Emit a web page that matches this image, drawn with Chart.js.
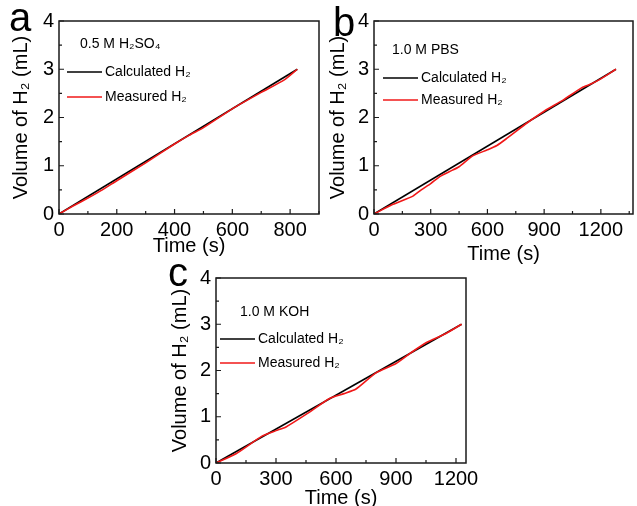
<!DOCTYPE html>
<html lang="en">
<head>
<meta charset="UTF-8">
<title>Volume of H2 vs time</title>
<script src="https://cdn.jsdelivr.net/npm/chart.js"></script>
<style>
  body { margin: 0; background: #fff; overflow: hidden; }
  #wrap { position: relative; width: 637px; height: 506px; overflow: hidden; }
  canvas { position: absolute; }
</style>
</head>
<body>
<div id="wrap">
  <canvas id="chartA" width="322" height="262" style="left:0;top:0"></canvas>
  <canvas id="chartB" width="317" height="270" style="left:320px;top:0"></canvas>
  <canvas id="chartC" width="330" height="260" style="left:160px;top:256px"></canvas>
</div>
<script>
// panel a - 0.5 M H2SO4
const aCalcTime = [0, 825];
const aCalcVol = [0, 3];
const aMeasTime = [0, 50, 100, 150, 200, 300, 400, 450, 500, 600, 700, 780, 825];
const aMeasVol = [0, 0.17, 0.33, 0.5, 0.69, 1.06, 1.45, 1.63, 1.79, 2.18, 2.52, 2.78, 3.0];
const aTimeTicks = [0, 200, 400, 600, 800];

// panel b - 1.0 M PBS
const bCalcTime = [0, 1280];
const bCalcVol = [0, 3];
const bMeasTime = [0, 100, 206, 250, 300, 350, 400, 450, 520, 600, 650, 700, 800, 900, 1000, 1100, 1150, 1200, 1280];
const bMeasVol = [0, 0.2, 0.37, 0.5, 0.63, 0.78, 0.88, 0.98, 1.2, 1.33, 1.42, 1.56, 1.86, 2.13, 2.36, 2.62, 2.7, 2.8, 3.0];
const bTimeTicks = [0, 300, 600, 900, 1200];

// panel c - 1.0 M KOH
const cCalcTime = [0, 1228];
const cCalcVol = [0, 3];
const cMeasTime = [0, 100, 230, 300, 350, 450, 570, 640, 700, 800, 900, 980, 1050, 1150, 1228];
const cMeasVol = [0, 0.2, 0.58, 0.7, 0.78, 1.05, 1.4, 1.5, 1.6, 1.95, 2.15, 2.4, 2.6, 2.8, 3.0];
const cTimeTicks = [0, 300, 600, 900, 1200];

const volTicks = [0, 1, 2, 3, 4];
const legendNames = ['Calculated H\u2082', 'Measured H\u2082'];
const FONT = '"Liberation Sans", Arial, sans-serif';
Chart.defaults.font.family = FONT;

function pts(t, v) {
    return t.map((x, i) => ({ x: x, y: v[i] }));
}

// box around the plot + inward major/minor ticks (Origin style)
const frame = {
    id: 'frame',
    afterDatasetsDraw(chart) {
        const { ctx, chartArea: a, scales } = chart;
        ctx.save();
        ctx.strokeStyle = '#1a1a1a';
        ctx.lineWidth = 1.5;
        ctx.strokeRect(a.left, a.top, a.right - a.left, a.bottom - a.top);
        ctx.lineWidth = 1.2;
        ctx.beginPath();
        const xs = scales.x, ys = scales.y;
        const xv = xs.ticks.map(t => t.value), yv = ys.ticks.map(t => t.value);
        const xStep = xv[1] - xv[0], yStep = yv[1] - yv[0];
        for (let v = 0; v <= xs.max; v += xStep / 2) {
            const px = xs.getPixelForValue(v);
            const len = (Math.round(v / xStep * 2) % 2 === 0) ? 5 : 3;
            ctx.moveTo(px, a.bottom);
            ctx.lineTo(px, a.bottom - len);
        }
        for (let v = 0; v <= ys.max; v += yStep / 2) {
            const py = ys.getPixelForValue(v);
            const len = (Math.round(v / yStep * 2) % 2 === 0) ? 5 : 3;
            ctx.moveTo(a.left, py);
            ctx.lineTo(a.left + len, py);
        }
        ctx.stroke();
        ctx.restore();
    }
};

// panel letter, electrolyte label and legend inside the plot
const deco = {
    id: 'deco',
    afterDraw(chart, args, o) {
        const { ctx, chartArea: a } = chart;
        ctx.save();
        ctx.fillStyle = '#000';
        ctx.textAlign = 'left';
        ctx.textBaseline = 'alphabetic';
        ctx.font = '40px ' + FONT;
        ctx.fillText(o.letter, a.left + o.letterX, a.top + o.letterY);
        ctx.font = '14px ' + FONT;
        ctx.textBaseline = 'middle';
        ctx.fillText(o.label, a.left + o.labelX, a.top + o.labelY);
        chart.data.datasets.forEach((ds, i) => {
            const y = a.top + o.rows[i];
            ctx.strokeStyle = ds.borderColor;
            ctx.lineWidth = 1.6;
            ctx.beginPath();
            ctx.moveTo(a.left + o.lx, y);
            ctx.lineTo(a.left + o.lx + 35, y);
            ctx.stroke();
            ctx.fillText(ds.label, a.left + o.lx + 38, y);
        });
        ctx.restore();
    }
};

function makeChart(id, p) {
    new Chart(document.getElementById(id), {
        type: 'line',
        data: {
            datasets: [
                { label: legendNames[0], data: pts(p.calcT, p.calcV), borderColor: '#000', borderWidth: 1.6, pointRadius: 0, order: 1 },
                { label: legendNames[1], data: pts(p.measT, p.measV), borderColor: '#f01818', borderWidth: 1.6, pointRadius: 0, tension: 0.2, order: 0 }
            ]
        },
        options: {
            responsive: false,
            animation: false,
            layout: { padding: p.pad },
            plugins: {
                legend: { display: false },
                tooltip: { enabled: false },
                deco: p.deco
            },
            scales: {
                x: {
                    type: 'linear', min: 0, max: p.xMax,
                    afterBuildTicks: s => { s.ticks = p.xTicks.map(v => ({ value: v })); },
                    afterFit: s => { s.height = p.xH; s.paddingLeft = 0; s.paddingRight = 0; },
                    grid: { display: false, drawTicks: false },
                    border: { display: false },
                    ticks: { padding: 4, color: '#000', maxRotation: 0, autoSkip: false, font: { size: 20 },
                        callback: v => String(v) },
                    title: { display: true, text: 'Time (s)', color: '#000', font: { size: 20, lineHeight: 1.2 }, padding: { top: 0, bottom: p.xTitlePad } }
                },
                y: {
                    type: 'linear', min: 0, max: 4,
                    afterBuildTicks: s => { s.ticks = volTicks.map(v => ({ value: v })); },
                    afterFit: s => { s.width = p.yW; s.paddingTop = 0; s.paddingBottom = 0; },
                    grid: { display: false, drawTicks: false },
                    border: { display: false },
                    ticks: { padding: 5, color: '#000', font: { size: 20 }, callback: v => String(v) },
                    title: { display: true, text: 'Volume of H\u2082 (mL)', color: '#000', font: { size: 20, lineHeight: 1.2 }, padding: { top: p.yTitlePad, bottom: 0 } }
                }
            }
        },
        plugins: [frame, deco]
    });
}

makeChart('chartA', {
    calcT: aCalcTime, calcV: aCalcVol, measT: aMeasTime, measV: aMeasVol, xTicks: aTimeTicks,
    xMax: 900, yW: 59, xH: 48, xTitlePad: 4, yTitlePad: 9,
    pad: { left: 0, top: 21, right: 3, bottom: 0 },
    deco: { letter: 'a', letterX: -50, letterY: 10, label: '0.5 M H\u2082SO\u2084', labelX: 21, labelY: 23, lx: 8, rows: [51, 76] }
});

makeChart('chartB', {
    calcT: bCalcTime, calcV: bCalcVol, measT: bMeasTime, measV: bMeasVol, xTicks: bTimeTicks,
    xMax: 1370, yW: 54, xH: 56, xTitlePad: 4, yTitlePad: 6,
    pad: { left: 0, top: 21, right: 4, bottom: 0 },
    deco: { letter: 'b', letterX: -41, letterY: 15, label: '1.0 M PBS', labelX: 18, labelY: 29, lx: 9, rows: [57, 79] }
});

makeChart('chartC', {
    calcT: cCalcTime, calcV: cCalcVol, measT: cMeasTime, measV: cMeasVol, xTicks: cTimeTicks,
    xMax: 1250, yW: 56, xH: 53, xTitlePad: 6, yTitlePad: 8,
    pad: { left: 0, top: 22, right: 24, bottom: 0 },
    deco: { letter: 'c', letterX: -48, letterY: 8, label: '1.0 M KOH', labelX: 24, labelY: 34, lx: 4, rows: [61, 85] }
});
</script>
</body>
</html>
